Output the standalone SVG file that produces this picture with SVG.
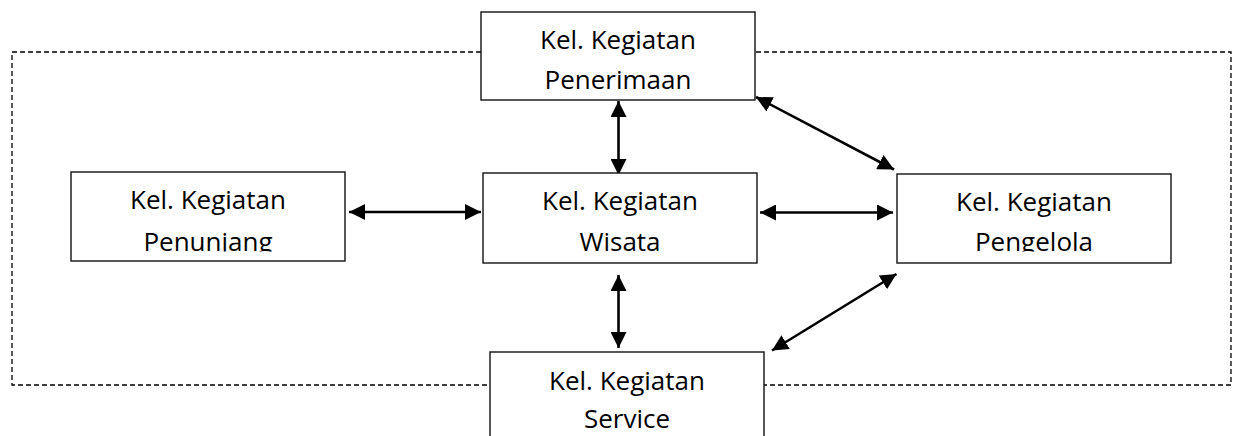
<svg xmlns="http://www.w3.org/2000/svg" width="1235" height="436" viewBox="0 0 1235 436">
<style>
.box{fill:#fff;stroke:#111;stroke-width:1.4}
.lbl{font-family:"Open Sans","Noto Sans",sans-serif;font-size:26px;fill:#000;text-anchor:middle}
.conn{stroke:#000;stroke-width:2.6;fill:none;marker-start:url(#ah);marker-end:url(#ah)}
.border{fill:none;stroke:#000;stroke-width:1.3;stroke-dasharray:5 3}
</style>
<defs>
<marker id="ah" markerUnits="userSpaceOnUse" markerWidth="17" markerHeight="16" refX="16" refY="8" orient="auto-start-reverse">
<path d="M0,0 L16,8 L0,16 z" fill="#000"/>
</marker>
<clipPath id="clipMid"><rect x="0" y="0" width="1235" height="251.5"/></clipPath>
</defs>
<rect class="border" x="12" y="52" width="1219" height="333"/>
<g id="connectors">
<line class="conn" x1="349" y1="212" x2="481" y2="212"/>
<line class="conn" x1="760" y1="212.5" x2="893" y2="212.5"/>
<line class="conn" x1="618.5" y1="101" x2="618.5" y2="175"/>
<line class="conn" x1="618.5" y1="275" x2="618.5" y2="348"/>
<line class="conn" x1="756" y1="97" x2="894" y2="169.5"/>
<line class="conn" x1="896.5" y1="274" x2="772" y2="350.5"/>
</g>
<g id="penerimaan">
<rect class="box" x="481" y="12" width="274" height="88"/>
<text class="lbl" x="618" y="49">Kel. Kegiatan</text>
<text class="lbl" x="618" y="89">Penerimaan</text>
</g>
<g id="penunjang">
<rect class="box" x="71" y="172" width="274" height="89"/>
<g clip-path="url(#clipMid)">
<text class="lbl" x="208" y="209">Kel. Kegiatan</text>
<text class="lbl" x="208" y="251">Penunjang</text>
</g>
</g>
<g id="wisata">
<rect class="box" x="483" y="173" width="274" height="90"/>
<text class="lbl" x="620" y="210">Kel. Kegiatan</text>
<text class="lbl" x="620" y="251">Wisata</text>
</g>
<g id="pengelola">
<rect class="box" x="897" y="174" width="274" height="89"/>
<g clip-path="url(#clipMid)">
<text class="lbl" x="1034" y="211">Kel. Kegiatan</text>
<text class="lbl" x="1034" y="251">Pengelola</text>
</g>
</g>
<g id="service">
<rect class="box" x="490" y="352" width="274" height="100"/>
<text class="lbl" x="627" y="390">Kel. Kegiatan</text>
<text class="lbl" x="627" y="428">Service</text>
</g>
</svg>
